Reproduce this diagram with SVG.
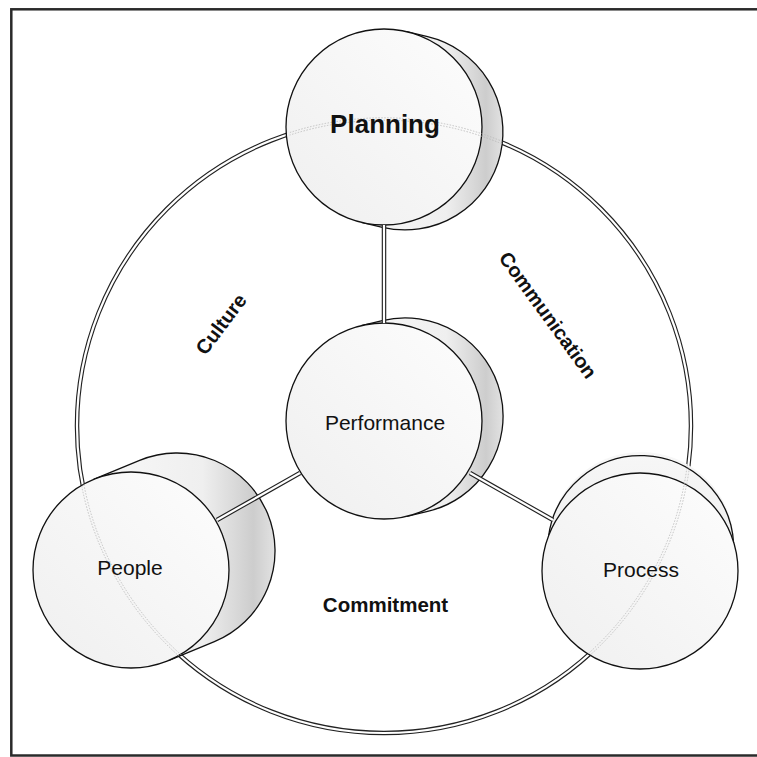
<svg xmlns="http://www.w3.org/2000/svg" width="757" height="757" viewBox="0 0 757 757">
<defs>
<style>
.lbl{font-family:"Liberation Sans",Arial,Helvetica,sans-serif;fill:#111;}
.b{font-weight:bold;}
.front{fill:url(#gFront);stroke:#111;stroke-width:1.3;}
.sideFill{fill:url(#gSide);stroke:none;}
.edge{fill:none;stroke:#111;stroke-width:1.3;}
.dblOut{fill:none;stroke:#222;stroke-width:4.5;}
.dblIn{fill:none;stroke:#fff;stroke-width:2.2;}
.ghost{fill:none;stroke:#b8b8b8;stroke-width:0.8;stroke-dasharray:1.5 1.5;}
</style>
<linearGradient id="gFront" x1="0" y1="1" x2="1" y2="0">
<stop offset="0" stop-color="#efefef"/>
<stop offset="1" stop-color="#fdfdfd"/>
</linearGradient>
<linearGradient id="gSide" x1="0" y1="0" x2="1" y2="0">
<stop offset="0" stop-color="#f8f8f8"/>
<stop offset="0.6" stop-color="#efefef"/>
<stop offset="0.88" stop-color="#cdcdcd"/>
<stop offset="1" stop-color="#e2e2e2"/>
</linearGradient>
<linearGradient id="gTop" x1="0" y1="0" x2="0" y2="1">
<stop offset="0" stop-color="#f7f7f7"/>
<stop offset="1" stop-color="#e6e6e6"/>
</linearGradient>
<clipPath id="nodeClip">
<path d="M361.4,222.3 L382.4,227.3 A98,98 0 0 0 500.3,154.6 A98,98 0 0 0 427.6,36.7 L406.6,31.7 A98,98 0 0 0 361.4,222.3 Z"/>
<path d="M168.4,660.6 L214.4,641.6 A98,98 0 0 0 267.6,513.6 A98,98 0 0 0 139.6,460.4 L93.6,479.4 A98,98 0 0 0 168.4,660.6 Z"/>
<circle cx="641" cy="545" r="93"/>
<circle cx="640" cy="571" r="98"/>
</clipPath>
</defs>
<rect x="0" y="0" width="757" height="757" fill="#fff"/>
<rect x="11.3" y="9.3" width="748" height="746.2" fill="none" stroke="#2a2a2a" stroke-width="2.5"/>

<g id="ring">
<circle cx="384" cy="426" r="307" class="dblOut"/>
<circle cx="384" cy="426" r="307" class="dblIn"/>
</g>

<g id="node-planning">
<path class="sideFill" d="M361.4,222.3 L382.4,227.3 A98,98 0 0 0 500.3,154.6 A98,98 0 0 0 427.6,36.7 L406.6,31.7 Z"/>
<path class="edge" d="M361.4,222.3 L382.4,227.3 A98,98 0 0 0 500.3,154.6 A98,98 0 0 0 427.6,36.7 L406.6,31.7"/>
<circle class="front" cx="384" cy="127" r="98"/>
</g>

<g id="node-performance">
<path class="sideFill" d="M406.7,516.4 L427.7,511.4 A98,98 0 0 0 500.4,393.3 A98,98 0 0 0 382.3,320.6 L361.3,325.6 Z"/>
<path class="edge" d="M406.7,516.4 L427.7,511.4 A98,98 0 0 0 500.4,393.3 A98,98 0 0 0 382.3,320.6 L361.3,325.6"/>
<circle class="front" cx="384" cy="421" r="98"/>
<text class="lbl" x="385" y="430" font-size="21" text-anchor="middle">Performance</text>
</g>

<g id="node-people">
<path class="sideFill" d="M168.4,660.6 L214.4,641.6 A98,98 0 0 0 267.6,513.6 A98,98 0 0 0 139.6,460.4 L93.6,479.4 Z"/>
<path class="edge" d="M168.4,660.6 L214.4,641.6 A98,98 0 0 0 267.6,513.6 A98,98 0 0 0 139.6,460.4 L93.6,479.4"/>
<circle class="front" cx="131" cy="570" r="98"/>
</g>

<g id="node-process">
<circle cx="641" cy="545" r="93" fill="url(#gTop)"/>
<path class="edge" d="M548.6,536.1 A93,93 0 0 1 733.6,543.2"/>
<circle class="front" cx="640" cy="571" r="98"/>
</g>

<g id="ring-ghost" clip-path="url(#nodeClip)">
<circle cx="384" cy="426" r="305.8" class="ghost"/>
<circle cx="384" cy="426" r="308.2" class="ghost"/>
</g>

<g id="node-labels">
<text class="lbl b" x="385" y="133" font-size="26" text-anchor="middle">Planning</text>
<text class="lbl" x="130" y="575" font-size="21" text-anchor="middle">People</text>
<text class="lbl" x="641" y="577" font-size="21" text-anchor="middle">Process</text>
</g>

<g id="connectors">
<path class="dblOut" d="M384,225 L384,323 M300,473 L217,520 M470,473 L553,520"/>
<path class="dblIn" d="M384,225 L384,323 M300,473 L217,520 M470,473 L553,520"/>
</g>

<g id="labels">
<text class="lbl b" x="221" y="324" font-size="20" text-anchor="middle" dominant-baseline="central" transform="rotate(-53 221 324)">Culture</text>
<text class="lbl b" x="548" y="315" font-size="20" text-anchor="middle" dominant-baseline="central" transform="rotate(54 548 315)">Communication</text>
<text class="lbl b" x="385.5" y="612" font-size="20.5" text-anchor="middle">Commitment</text>
</g>
</svg>
